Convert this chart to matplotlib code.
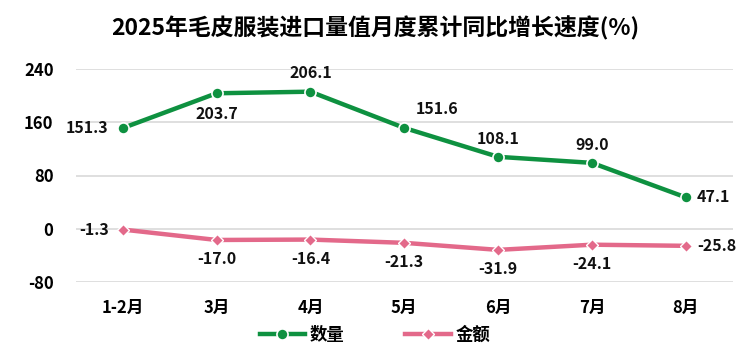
import matplotlib
matplotlib.use('Agg')
import matplotlib.pyplot as plt

plt.rcParams['font.family'] = ['Noto Sans CJK SC', 'DejaVu Sans']
plt.rcParams['axes.unicode_minus'] = False

months = ['1-2月', '3月', '4月', '5月', '6月', '7月', '8月']
qty = [151.3, 203.7, 206.1, 151.6, 108.1, 99.0, 47.1]
amount = [-1.3, -17.0, -16.4, -21.3, -31.9, -24.1, -25.8]
y_ticks = [-80, 0, 80, 160, 240]

green = '#0e9140'
pink = '#e3698a'

fig = plt.figure(figsize=(7.5, 3.51), dpi=100)
ax = fig.add_axes([0.101, 0.197, 0.876, 0.606])

x = list(range(len(months)))
ax.plot(x, qty, color=green, lw=3.2, marker='o', ms=8, mfc=green, mec='white', mew=1.2, label='数量', zorder=3)
ax.plot(x, amount, color=pink, lw=3.2, marker='D', ms=6, mfc=pink, mec='white', mew=1.0, label='金额', zorder=3)

# 数据标签位置
q_off = [(-10, 0, 'right', 'center'), (0, -9, 'center', 'top'), (0, 8, 'center', 'bottom'),
         (8, 8, 'left', 'bottom'), (0, 7, 'center', 'bottom'), (0, 7, 'center', 'bottom'),
         (8, 0, 'left', 'center')]
for i, v in enumerate(qty):
    dx, dy, ha, va = q_off[i]
    ax.annotate(f'{v:.1f}', (i, v), xytext=(dx, dy), textcoords='offset points',
                ha=ha, va=va, fontsize=11.5, fontweight='bold', color='#111111')
a_off = [(-10, 0, 'right', 'center')] + [(0, -8, 'center', 'top')] * 5 + [(8, 0, 'left', 'center')]
for i, v in enumerate(amount):
    dx, dy, ha, va = a_off[i]
    ax.annotate(f'{v:.1f}', (i, v), xytext=(dx, dy), textcoords='offset points',
                ha=ha, va=va, fontsize=11.5, fontweight='bold', color='#111111')

ax.set_xlim(-0.5, len(months) - 0.5)
ax.set_ylim(-80, 240)
ax.set_yticks(y_ticks)
ax.set_xticks(x)
ax.set_xticklabels(months)
ax.grid(axis='y', color='#d9d9d9', lw=1.2)
ax.set_axisbelow(True)
for s in ax.spines.values():
    s.set_visible(False)
ax.tick_params(length=0, labelsize=12, pad=12)
ax.tick_params(axis='y', pad=16)
for t in ax.get_xticklabels() + ax.get_yticklabels():
    t.set_fontweight('bold')

fig.text(0.5, 0.92, '2025年毛皮服装进口量值月度累计同比增长速度(%)', ha='center', va='center',
         fontsize=16.5, fontweight='bold')

fig.legend(loc='center', bbox_to_anchor=(0.5, 0.045), ncol=2, frameon=False,
           prop={'size': 12.5, 'weight': 'bold'}, handlelength=2.6, columnspacing=3.5, handletextpad=0.3)

fig.savefig('out.png', dpi=100)
